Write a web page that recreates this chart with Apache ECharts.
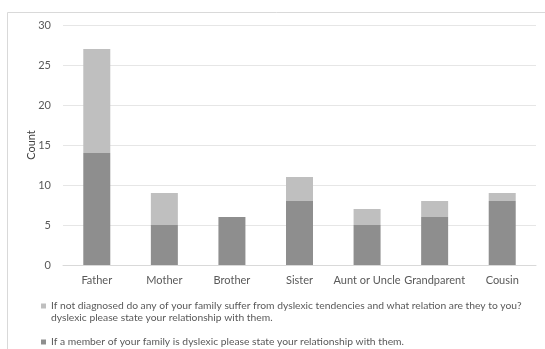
<!DOCTYPE html>
<html>
<head>
<meta charset="utf-8">
<script src="https://cdn.jsdelivr.net/npm/echarts@6/dist/echarts.min.js"></script>
<style>
html,body{margin:0;padding:0;background:#fff;}
#chart{width:545px;height:349px;}
</style>
</head>
<body>
<div id="chart"></div>
<script>
var categories = ['Father', 'Mother', 'Brother', 'Sister', 'Aunt or Uncle', 'Grandparent', 'Cousin'];
var diagnosedValues = [14, 5, 6, 8, 5, 6, 8];
var tendencyValues = [13, 4, 0, 3, 2, 2, 1];
var yTicks = [0, 5, 10, 15, 20, 25, 30];
var seriesNames = [
  'If a member of your family is dyslexic please state your relationship with them.',
  'If not diagnosed do any of your family suffer from dyslexic tendencies and what relation are they to you?'
];
var legendContinuation = 'dyslexic please state your relationship with them.';

var FONT = 'Lato';
var LEGEND_SIZE = 10.3;
var chart = echarts.init(document.getElementById('chart'), null, {renderer: 'canvas'});
chart.setOption({
  animation: false,
  backgroundColor: '#ffffff',
  textStyle: {fontFamily: FONT},
  graphic: [{
    type: 'rect',
    shape: {x: 7.5, y: 12.5, width: 560, height: 360},
    style: {fill: 'none', stroke: '#d9d9d9', lineWidth: 1},
    silent: true
  }, {
    type: 'text',
    left: 51,
    top: 313,
    silent: true,
    style: {text: legendContinuation, fill: '#595959', font: LEGEND_SIZE + 'px ' + FONT}
  }],
  grid: {left: 63, right: 9, top: 25, bottom: 84, containLabel: false},
  xAxis: {
    type: 'category',
    data: categories,
    axisLine: {lineStyle: {color: '#d9d9d9'}},
    axisTick: {show: false},
    axisLabel: {color: '#595959', fontSize: 11, fontFamily: FONT, margin: 10, interval: 0}
  },
  yAxis: {
    type: 'value',
    min: yTicks[0],
    max: yTicks[yTicks.length - 1],
    interval: 5,
    name: 'Count',
    nameLocation: 'middle',
    nameGap: 26,
    nameMoveOverlap: false,
    nameRotate: 90,
    nameTextStyle: {color: '#404040', fontSize: 11, fontFamily: FONT},
    axisLine: {show: false},
    axisTick: {show: false},
    splitLine: {lineStyle: {color: '#e6e6e6'}},
    axisLabel: {color: '#595959', fontSize: 11, fontFamily: FONT, margin: 12}
  },
  legend: [{
    data: [{name: seriesNames[1]}],
    left: 41,
    top: 299,
    padding: 0,
    icon: 'rect',
    itemWidth: 5,
    itemHeight: 5,
    selectedMode: false,
    textStyle: {color: '#595959', fontSize: LEGEND_SIZE, fontFamily: FONT, lineHeight: 14}
  }, {
    data: [{name: seriesNames[0]}],
    left: 41,
    top: 335,
    padding: 0,
    icon: 'rect',
    itemWidth: 5,
    itemHeight: 5,
    selectedMode: false,
    textStyle: {color: '#595959', fontSize: LEGEND_SIZE, fontFamily: FONT, lineHeight: 14}
  }],
  series: [{
    name: seriesNames[0],
    type: 'bar',
    stack: 'total',
    barWidth: 27,
    data: diagnosedValues,
    itemStyle: {color: '#8e8e8e'}
  }, {
    name: seriesNames[1],
    type: 'bar',
    stack: 'total',
    barWidth: 27,
    data: tendencyValues,
    itemStyle: {color: '#bfbfbf'}
  }]
});
</script>
</body>
</html>
